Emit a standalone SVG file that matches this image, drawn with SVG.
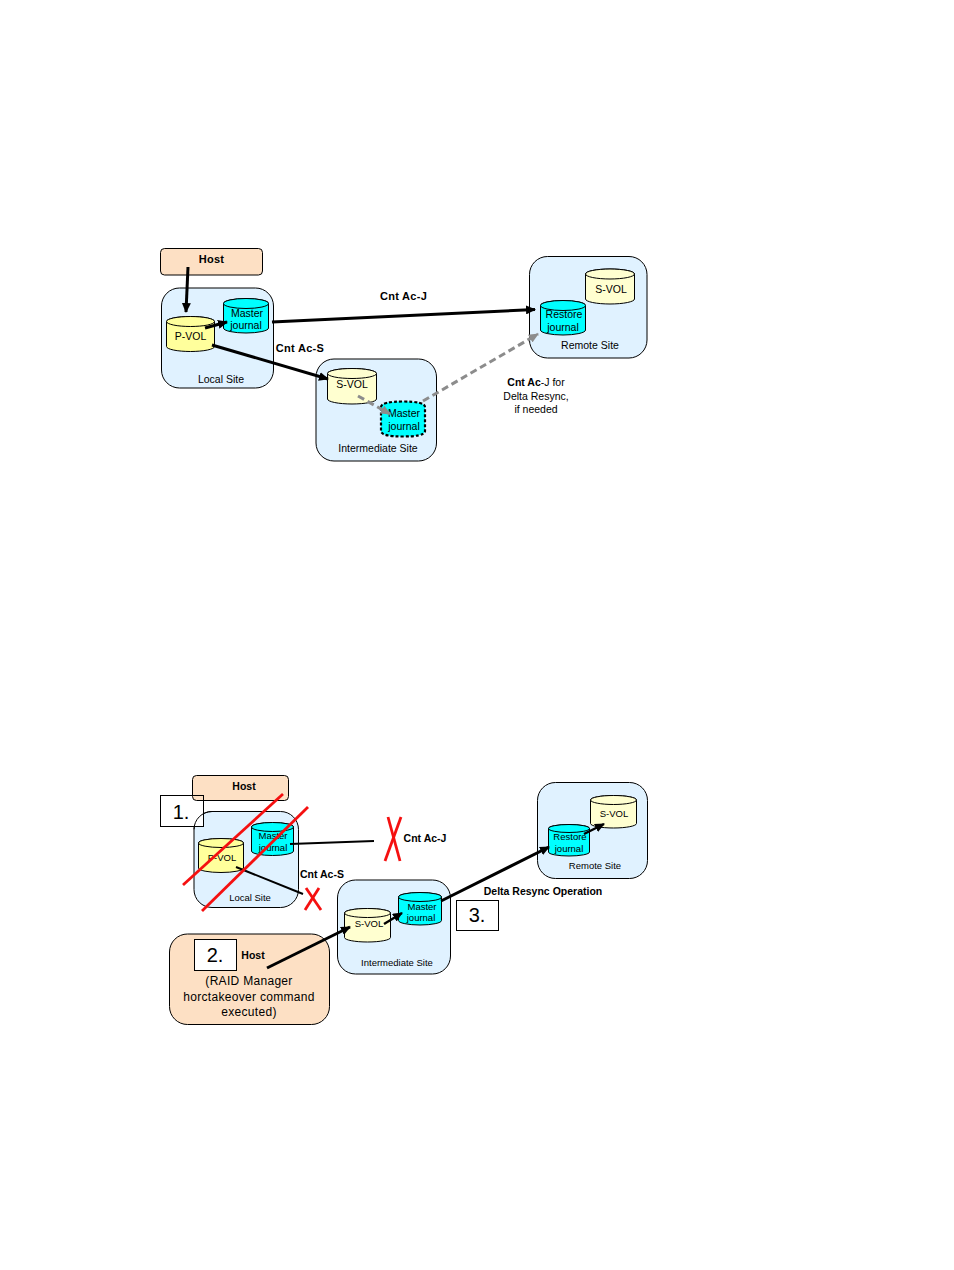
<svg xmlns="http://www.w3.org/2000/svg" width="954" height="1270" viewBox="0 0 954 1270">
<style>
text{font-family:"Liberation Sans",Arial,sans-serif;font-size:10.5px;fill:#000;text-anchor:middle}
.b{font-weight:bold}
.s{font-size:9.5px}
.n{font-size:20px}
.w{font-size:12px;letter-spacing:.3px}
.wb{font-size:11px;font-weight:bold;letter-spacing:.3px}
.site{fill:#e0f2ff;stroke:#000;stroke-width:1}
.host{fill:#fde0c4;stroke:#000;stroke-width:1}
.y{fill:#ffff9c;stroke:#000;stroke-width:1}
.c{fill:#ffffd0;stroke:#000;stroke-width:1}
.t{fill:#00ffff;stroke:#000;stroke-width:1}
.d{fill:#00ffff;stroke:#000;stroke-width:2.2;stroke-dasharray:3 2}
.box{fill:#fff;stroke:#000;stroke-width:1}
.o{fill:none;stroke:#000;stroke-width:1}
.a{fill:none;stroke:#000;stroke-width:3;marker-end:url(#ah)}
.a2{fill:none;stroke:#000;stroke-width:2.4;marker-end:url(#ah)}
.l{fill:none;stroke:#000;stroke-width:2}
.g{fill:none;stroke:#8c8c8c;stroke-width:3;stroke-dasharray:7 4;marker-end:url(#ag)}
.r{fill:none;stroke:#f51010;stroke-width:2.8}
</style>
<defs>
<marker id="ah" markerUnits="userSpaceOnUse" markerWidth="10" markerHeight="9" refX="9" refY="4.500" orient="auto"><path d="M0,0L10,4.500L0,9Z" fill="#000"/></marker>
<marker id="ag" markerUnits="userSpaceOnUse" markerWidth="10" markerHeight="9" refX="9" refY="4.500" orient="auto"><path d="M0,0L10,4.500L0,9Z" fill="#8c8c8c"/></marker>
</defs>
<rect width="954" height="1270" fill="#fff"/>

<g id="site-local-1"><rect class="site" x="161.5" y="288" width="112" height="100" rx="18"/><text x="221" y="383">Local Site</text></g>
<g id="site-intermediate-1"><rect class="site" x="316" y="359" width="120.500" height="102" rx="18"/><text x="378" y="452">Intermediate Site</text></g>
<g id="site-remote-1"><rect class="site" x="529.500" y="256.500" width="117.500" height="101.500" rx="18"/><text x="590" y="349">Remote Site</text></g>
<g id="host-1"><rect class="host" x="160.500" y="248.500" width="102" height="26.500" rx="4"/><text class="wb" x="211.500" y="263">Host</text></g>
<g id="pvol-1"><path class="y" d="M166.500,321.500A24,5 0 0 1 214.500,321.500V346.500A24,5 0 0 1 166.500,346.500Z"/><ellipse class="y" cx="190.500" cy="321.500" rx="24" ry="5"/><text x="190.500" y="340">P-VOL</text></g>
<g id="mj-1"><path class="t" d="M223.500,303.500A22.500,5 0 0 1 268.500,303.500V328A22.500,5 0 0 1 223.500,328Z"/><ellipse class="t" cx="246" cy="303.500" rx="22.500" ry="5"/><text x="247" y="317">Master</text><text x="246" y="329">journal</text></g>
<g id="svol-1"><path class="c" d="M327.500,373.500A24.500,5 0 0 1 376.500,373.500V399A24.500,5 0 0 1 327.500,399Z"/><ellipse class="c" cx="352" cy="373.500" rx="24.500" ry="5"/><text x="352" y="388">S-VOL</text></g>
<g id="mj-2"><path class="d" d="M381,407C381,403 390,401.500 403,401.500C416,401.500 425,403 425,407V431C425,435 416,436.500 403,436.500C390,436.500 381,435 381,431Z"/><text x="404" y="417">Master</text><text x="404" y="430">journal</text></g>
<g id="svol-2"><path class="c" d="M585.500,274A24.500,5 0 0 1 634.500,274V299A24.500,5 0 0 1 585.500,299Z"/><ellipse class="c" cx="610" cy="274" rx="24.500" ry="5"/><text x="611" y="293">S-VOL</text></g>
<g id="rj-1"><path class="t" d="M540.500,305.500A22.500,5 0 0 1 585.500,305.500V330A22.500,5 0 0 1 540.500,330Z"/><ellipse class="t" cx="563" cy="305.500" rx="22.500" ry="5"/><text x="564" y="318">Restore</text><text x="563" y="331">journal</text></g>

<g id="site-local-2"><rect class="site" x="194" y="811.500" width="104.500" height="96" rx="18"/><text class="s" x="250" y="901">Local Site</text></g>
<g id="site-intermediate-2"><rect class="site" x="337.500" y="880" width="113" height="94" rx="18"/><text class="s" x="397" y="966">Intermediate Site</text></g>
<g id="site-remote-2"><rect class="site" x="537.500" y="782.500" width="110" height="96" rx="18"/><text class="s" x="595" y="869">Remote Site</text></g>
<g id="step-1-back"><rect class="box" x="160.500" y="795.500" width="43" height="31"/></g>
<g id="host-2"><rect class="host" x="192.500" y="775.500" width="96" height="25" rx="4"/><text class="b" x="244" y="790">Host</text></g>
<g id="pvol-2"><path class="y" d="M198.500,843A22.500,4.500 0 0 1 243.500,843V868A22.500,4.500 0 0 1 198.500,868Z"/><ellipse class="y" cx="221" cy="843" rx="22.500" ry="4.500"/><text class="s" x="222" y="861">P-VOL</text></g>
<g id="mj-3"><path class="t" d="M251.500,827A21,4.500 0 0 1 293.500,827V851A21,4.500 0 0 1 251.500,851Z"/><ellipse class="t" cx="272.500" cy="827" rx="21" ry="4.500"/><text class="s" x="273" y="839">Master</text><text class="s" x="273" y="851">journal</text></g>
<g id="svol-3"><path class="c" d="M344.500,913A23,4.500 0 0 1 390.500,913V937.500A23,4.500 0 0 1 344.500,937.500Z"/><ellipse class="c" cx="367.500" cy="913" rx="23" ry="4.500"/><text class="s" x="369" y="927">S-VOL</text></g>
<g id="mj-4"><path class="t" d="M398.500,897A21.500,4.500 0 0 1 441.500,897V920.500A21.500,4.500 0 0 1 398.500,920.500Z"/><ellipse class="t" cx="420" cy="897" rx="21.500" ry="4.500"/><text class="s" x="422" y="910">Master</text><text class="s" x="421" y="921">journal</text></g>
<g id="svol-4"><path class="c" d="M590.500,800A23,4.500 0 0 1 636.500,800V823.500A23,4.500 0 0 1 590.500,823.500Z"/><ellipse class="c" cx="613.500" cy="800" rx="23" ry="4.500"/><text class="s" x="614" y="817">S-VOL</text></g>
<g id="rj-2"><path class="t" d="M548.500,828.500A20.500,4 0 0 1 589.500,828.500V852A20.500,4 0 0 1 548.500,852Z"/><ellipse class="t" cx="569" cy="828.500" rx="20.500" ry="4"/><text class="s" x="570" y="840">Restore</text><text class="s" x="569" y="852">journal</text></g>
<g id="host-3"><rect class="host" x="169.500" y="934" width="160" height="90.500" rx="18"/><text class="b" x="253" y="959">Host</text><text class="w" x="249" y="985">(RAID Manager</text><text class="w" x="249" y="1001">horctakeover command</text><text class="w" x="249" y="1016">executed)</text></g>
<g id="step-1"><path class="o" d="M194,829.500A18,18 0 0 1 212,811.500"/><rect class="o" x="160.500" y="795.500" width="43" height="31"/><text class="n" x="181" y="819">1.</text></g>
<g id="step-2"><rect class="box" x="194.500" y="939.500" width="42" height="31"/><text class="n" x="215" y="962">2.</text></g>
<g id="step-3"><rect class="box" x="456.500" y="900.500" width="42" height="30"/><text class="n" x="477" y="922">3.</text></g>

<g id="connectors">
<path class="a" d="M188,267L186,312"/>
<path class="a" d="M205,328L227,322"/>
<path class="a" d="M272,322L535,309.500"/>
<path class="a" d="M212,345L328,379"/>
<path class="g" d="M358,396L390,414"/>
<path class="g" d="M423,401L538,334"/>
<path class="l" d="M290,844L374,841"/>
<path class="l" d="M236,867L303,894"/>
<path class="a" d="M267,968L350,927"/>
<path class="a2" d="M384,924L402,913"/>
<path class="a" d="M441,901L549,847"/>
<path class="a2" d="M584,834L604,824"/>
<path class="r" d="M183,885L283,794"/>
<path class="r" d="M202,911L308,807"/>
<path class="r" d="M388,817L400,861"/>
<path class="r" d="M401,817L385,861"/>
<path class="r" d="M306,888L321,910"/>
<path class="r" d="M319,888L305,910"/>
</g>

<g id="labels">
<text class="wb" x="403.500" y="300">Cnt Ac-J</text>
<text class="wb" x="300" y="352">Cnt Ac-S</text>
<text x="536" y="386"><tspan class="b">Cnt Ac</tspan>-J for</text>
<text x="536" y="400">Delta Resync,</text>
<text x="536" y="413">if needed</text>
<text class="b" x="425" y="842">Cnt Ac-J</text>
<text class="b" x="322" y="878">Cnt Ac-S</text>
<text class="b" x="543" y="895">Delta Resync Operation</text>
</g>
</svg>
